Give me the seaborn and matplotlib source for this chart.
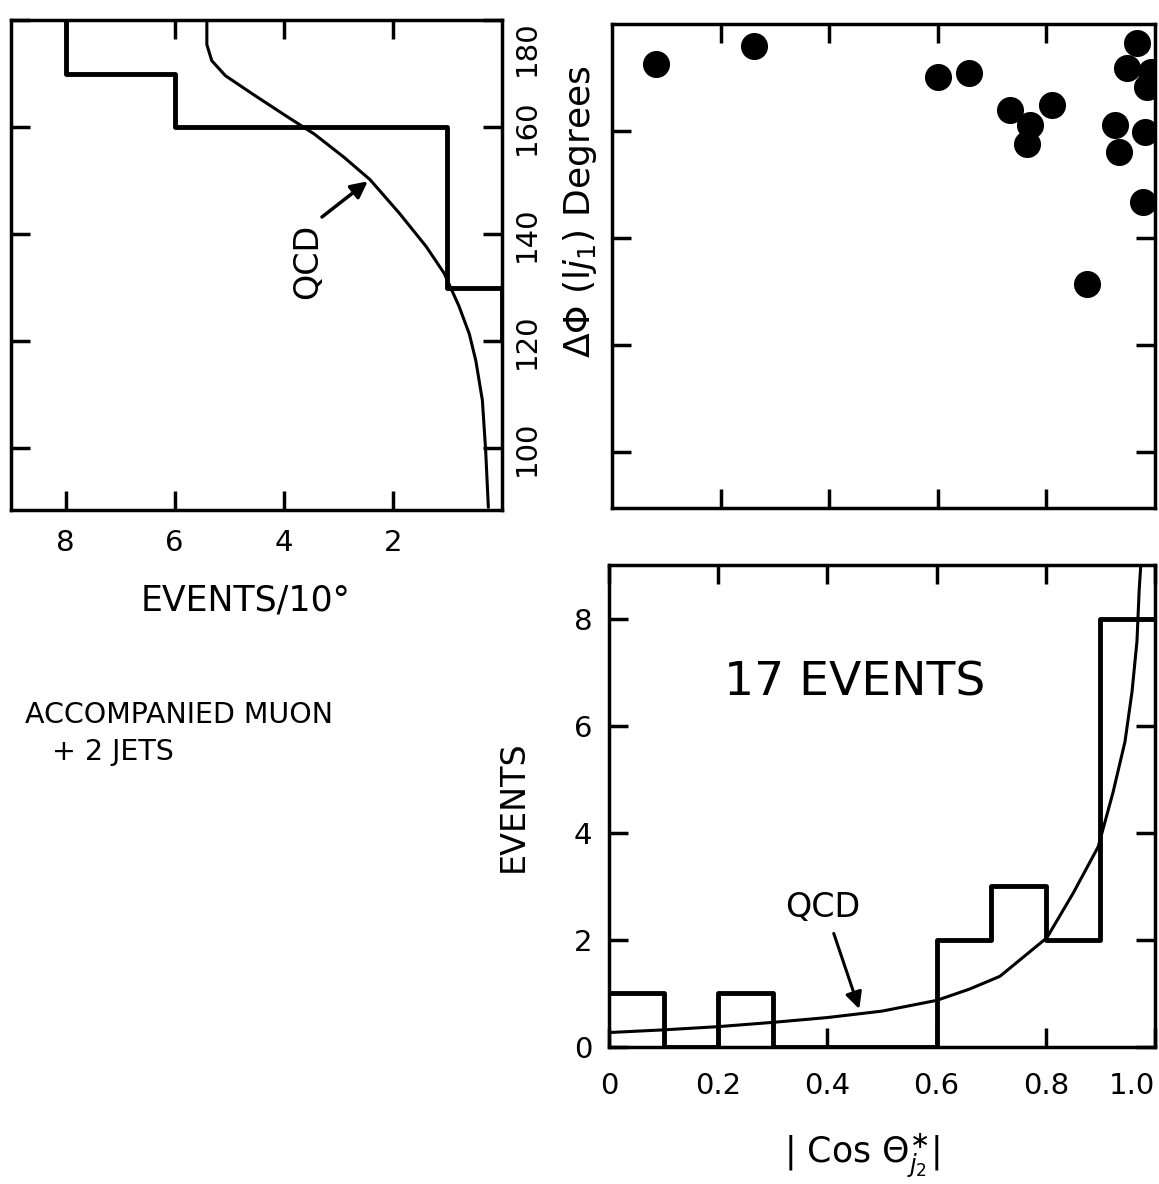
import numpy as np
import pandas as pd
import seaborn as sns
import matplotlib.pyplot as plt

sns.set_style('white')
plt.rcParams['font.family'] = ['DejaVu Sans']
plt.rcParams['mathtext.fontset'] = 'dejavusans'
plt.rcParams['text.color'] = 'black'
plt.rcParams['axes.labelcolor'] = 'black'

# Delta phi distribution, events per 10 degrees
dphi_edges = [120, 130, 140, 150, 160, 170, 180]
dphi_centers = [125, 135, 145, 155, 165, 175]
dphi_counts = [0, 1, 1, 1, 6, 8]

# QCD curve for delta phi (degrees, events/10 deg)
qcd_dphi_deg = [180, 175.4, 172.4, 169.6, 165.9, 161.9, 158.7, 154.4, 150.2,
                143.9, 137.7, 132.7, 126.6, 121.4, 116.4, 109.0, 99.7, 89.0]
qcd_dphi_ev = [5.41, 5.41, 5.32, 5.07, 4.53, 3.93, 3.44, 2.90, 2.42,
               1.88, 1.39, 1.06, 0.79, 0.60, 0.48, 0.36, 0.30, 0.25]

# scatter: |cos theta*| vs delta phi for the 17 events
cos_pts = [0.081, 0.262, 0.600, 0.657, 0.733, 0.770, 0.764, 0.810, 0.926,
           0.934, 0.948, 0.967, 0.985, 0.982, 0.978, 0.875, 0.993]
dphi_pts = [172.6, 175.8, 170.0, 170.9, 163.9, 161.1, 157.6, 164.8, 161.1,
            156.1, 171.7, 176.5, 168.3, 159.8, 146.8, 131.4, 171.0]

# |cos theta*| distribution
cos_edges = [0.0, 0.1, 0.2, 0.3, 0.4, 0.5, 0.6, 0.7, 0.8, 0.9, 1.0]
cos_centers = [0.05, 0.15, 0.25, 0.35, 0.45, 0.55, 0.65, 0.75, 0.85, 0.95]
cos_counts = [1, 0, 1, 0, 0, 0, 2, 3, 2, 8]

# QCD curve for |cos theta*|
qcd_cos_x = [0.0, 0.1, 0.2, 0.3, 0.4, 0.5, 0.6, 0.66, 0.716, 0.802, 0.850,
             0.896, 0.923, 0.945, 0.958, 0.967, 0.971, 0.974]
qcd_cos_y = [0.27, 0.32, 0.38, 0.46, 0.55, 0.67, 0.87, 1.08, 1.32, 2.04, 2.87,
             3.74, 4.75, 5.70, 6.64, 7.58, 8.53, 9.0]

W, H = 1159, 1184
fig = plt.figure(figsize=(W / 100, H / 100), dpi=100)


def box(l, r, t, b):
    return fig.add_axes([l / W, 1 - b / H, (r - l) / W, (b - t) / H])


def style(ax):
    for s in ax.spines.values():
        s.set_linewidth(2.5)
        s.set_color('black')
    ax.tick_params(direction='in', length=14, width=2.5, top=True, right=True,
                   bottom=True, left=True, labelsize=21, colors='black')


ax1 = box(11, 502, 20, 510)
ax2 = box(612, 1155, 24, 508)
ax3 = box(609, 1155, 565, 1047)

# top-left: horizontal histogram of delta phi
df1 = pd.DataFrame({'dphi': dphi_centers, 'n': dphi_counts})
sns.histplot(data=df1, y='dphi', weights='n', bins=dphi_edges, element='step',
             fill=False, color='black', linewidth=3.5, ax=ax1)
sns.lineplot(x=qcd_dphi_ev, y=qcd_dphi_deg, sort=False, estimator=None,
             color='black', linewidth=2.2, ax=ax1)
ax1.set_xlim(9, 0)
ax1.set_ylim(88.5, 180)
ax1.set_xticks([8, 6, 4, 2])
ax1.set_yticks([100, 120, 140, 160, 180])
style(ax1)
ax1.tick_params(axis='x', pad=14)
ax1.tick_params(axis='y', labelleft=False, labelright=True, labelrotation=90, pad=8)
ylabels = ax1.get_yticklabels()
for t in ylabels:
    t.set_va('center')
ylabels[-1].set_va('top')
ax1.set_xlabel('EVENTS/10°', fontsize=25)
ax1.xaxis.set_label_coords(0.477, -0.15)
ax1.yaxis.set_label_position('right')
ax1.set_ylabel(r'$\Delta\Phi$ (l$j_1$) Degrees', fontsize=26)
ax1.yaxis.set_label_coords(1.12, 0.61)
ax1.annotate('', xy=(2.42, 150.2), xytext=(3.34, 142.9),
             arrowprops=dict(arrowstyle='-|>', lw=2.5, color='black', mutation_scale=25))
ax1.text(3.56, 135, 'QCD', rotation=90, ha='center', va='center', fontsize=24)

# top-right: scatter
sns.scatterplot(x=cos_pts, y=dphi_pts, s=380, color='black', edgecolor='black',
                linewidth=0, ax=ax2)
ax2.set_xlim(0, 1)
ax2.set_ylim(89.5, 180)
ax2.set_xticks([0.2, 0.4, 0.6, 0.8])
ax2.set_yticks([100, 120, 140, 160])
style(ax2)
ax2.tick_params(labelbottom=False, labelleft=False)
ax2.set_xlabel('')
ax2.set_ylabel('')

# bottom-right: |cos theta*| histogram
df3 = pd.DataFrame({'cos': cos_centers, 'n': cos_counts})
sns.histplot(data=df3, x='cos', weights='n', bins=cos_edges, element='step',
             fill=False, color='black', linewidth=3.5, ax=ax3)
sns.lineplot(x=qcd_cos_x, y=qcd_cos_y, sort=False, estimator=None,
             color='black', linewidth=2.2, ax=ax3)
ax3.set_xlim(0, 1)
ax3.set_ylim(0, 9)
ax3.set_xticks([0, 0.2, 0.4, 0.6, 0.8, 1.0])
ax3.set_xticklabels(['0', '0.2', '0.4', '0.6', '0.8', '1.0'])
ax3.set_yticks([0, 2, 4, 6, 8])
style(ax3)
ax3.tick_params(axis='x', pad=18)
ax3.tick_params(axis='y', pad=12)
ax3.get_xticklabels()[-1].set_ha('right')
ax3.set_xlabel(r'| Cos $\Theta^{\ast}_{j_2}$|', fontsize=25)
ax3.xaxis.set_label_coords(0.463, -0.175)
ax3.set_ylabel('EVENTS', fontsize=24)
ax3.yaxis.set_label_coords(-0.145, 0.5)
ax3.text(0.45, 6.8, '17 EVENTS', ha='center', va='center', fontsize=34)
ax3.text(0.392, 2.6, 'QCD', ha='center', va='center', fontsize=24)
ax3.annotate('', xy=(0.46, 0.66), xytext=(0.41, 2.17),
             arrowprops=dict(arrowstyle='-|>', lw=2.2, color='black', mutation_scale=25))

fig.text(25 / W, 1 - 715 / H, 'ACCOMPANIED MUON', fontsize=20.5, ha='left', va='center')
fig.text(52 / W, 1 - 752 / H, '+ 2 JETS', fontsize=20.5, ha='left', va='center')

fig.savefig('out.png', dpi=100, facecolor='white')
